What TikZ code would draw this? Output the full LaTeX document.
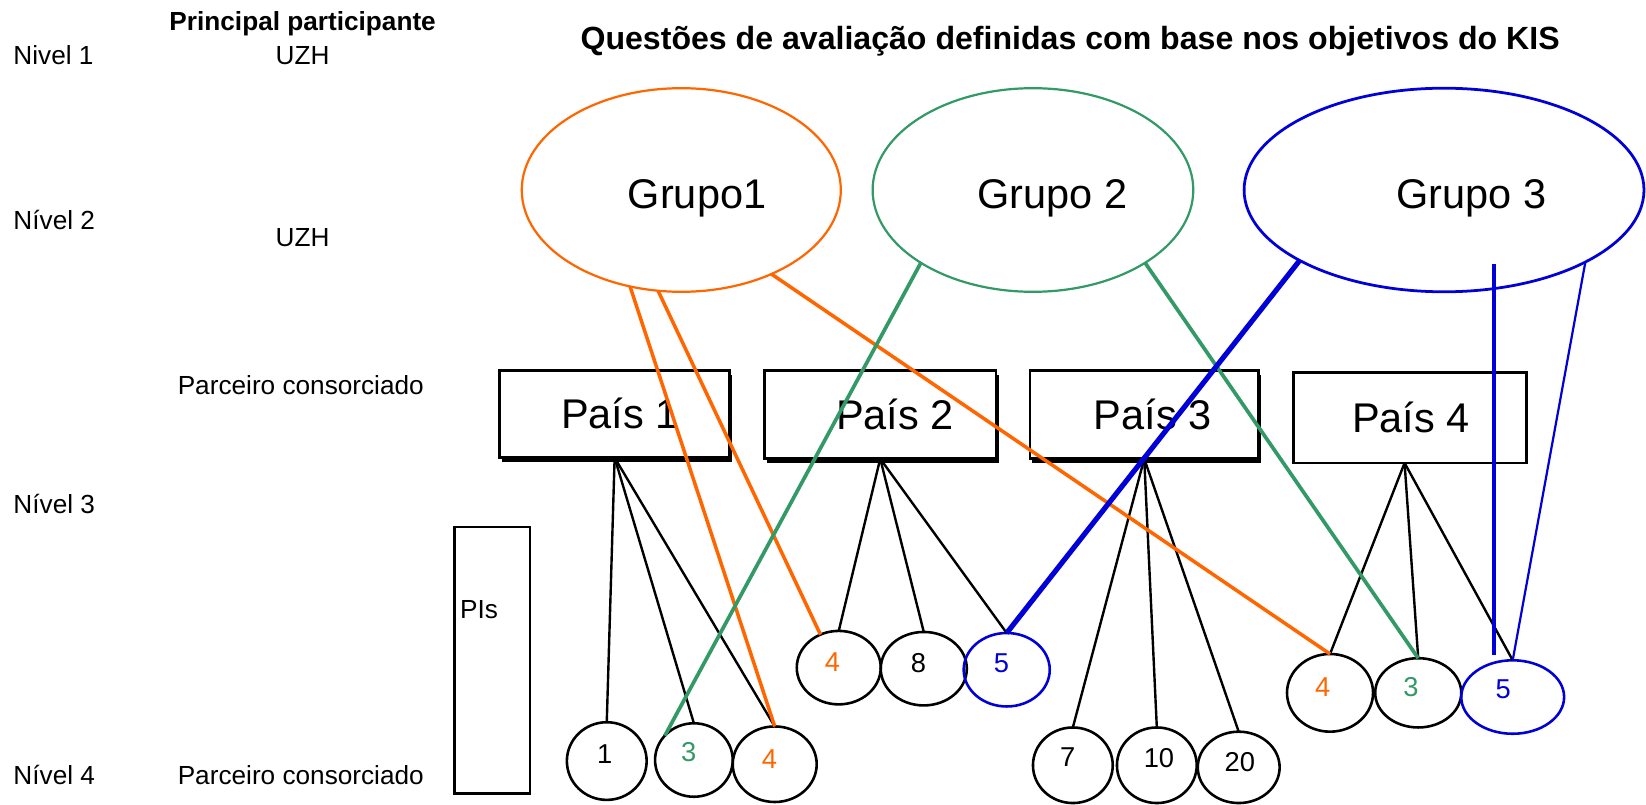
\documentclass[tikz,border=0pt]{standalone}
\usepackage{fontspec}
\setmainfont{Liberation Sans}
\usetikzlibrary{shapes.geometric,shadows}

\definecolor{grpA}{RGB}{255,102,0}
\definecolor{grpB}{RGB}{51,153,102}
\definecolor{grpC}{RGB}{0,0,215}

\begin{document}
\begin{tikzpicture}[x=0.02cm,y=-0.02cm,
  lbl/.style={inner sep=0,font=\fontsize{14.2}{17}\selectfont},
  ttl/.style={inner sep=0,font=\bfseries\fontsize{17.4}{21}\selectfont},
  grp/.style={ellipse,draw,line width=1.2pt,inner sep=0,outer sep=0},
  grptxt/.style={inner sep=0,text height=16.2pt,text depth=0pt,font=\fontsize{22.5}{26}\selectfont},
  paisbox/.style={rectangle,draw,fill=white,line width=1.4pt,inner sep=0,outer sep=0},
  boxshadow/.style={drop shadow={fill=black,opacity=1,shadow xshift=0.05cm,shadow yshift=-0.08cm}},
  paistxt/.style={inner sep=0,text height=16.1pt,text depth=0pt,font=\fontsize{22.5}{26}\selectfont},
  pi/.style={ellipse,draw,line width=1.4pt,inner sep=0,outer sep=0},
  numtxt/.style={inner sep=0,text height=10.6pt,text depth=0pt,font=\fontsize{14.8}{18}\selectfont},
  tie/.style={line width=1.3pt,black},
  linkA/.style={line width=1.9pt,grpA},
  linkB/.style={line width=2pt,grpB},
]
\useasboundingbox (0,0) rectangle (1568,766);

% left column: levels and roles
\node[lbl,anchor=base] (pp) at (288.3,28.6) {\bfseries Principal participante};
\node[lbl,anchor=base west] (n1) at (12.5,61) {Nivel 1};
\node[lbl,anchor=base] (uzh1) at (288.3,61) {UZH};
\node[lbl,anchor=base west] (n2) at (12.5,219) {Nível 2};
\node[lbl,anchor=base] (uzh2) at (288.3,234.4) {UZH};
\node[lbl,anchor=base west] (pc1) at (169,376) {Parceiro consorciado};
\node[lbl,anchor=base west] (n3) at (12.5,489) {Nível 3};
\node[lbl,anchor=base west] (n4) at (12.5,747) {Nível 4};
\node[lbl,anchor=base west] (pc2) at (169,747) {Parceiro consorciado};

% title
\node[ttl,anchor=base] (title) at (1019.4,47.6) {Questões de avaliação definidas com base nos objetivos do KIS};

% evaluation groups
\node[grp,draw=grpA,minimum width=6.08cm,minimum height=3.88cm,
  label={[grptxt,xshift=0.30cm,yshift=-0.06cm]center:Grupo1}] (g1) at (649,181) {};
\node[grp,draw=grpB,minimum width=6.11cm,minimum height=3.88cm,
  label={[grptxt,xshift=0.37cm,yshift=-0.06cm]center:Grupo 2}] (g2) at (984,181) {};
\node[grp,draw=grpC,line width=1.5pt,minimum width=7.62cm,minimum height=3.88cm,
  label={[grptxt,xshift=0.52cm,yshift=-0.06cm]center:Grupo 3}] (g3) at (1375.6,181) {};

% countries
\node[paisbox,boxshadow,minimum width=4.38cm,minimum height=1.66cm,
  label={[paistxt,xshift=0.10cm]center:País 1}] (p1) at (585.5,394.5) {};
\node[paisbox,boxshadow,minimum width=4.42cm,minimum height=1.68cm,
  label={[paistxt,xshift=0.28cm]center:País 2}] (p2) at (838.5,395) {};
\node[paisbox,boxshadow,minimum width=4.36cm,minimum height=1.68cm,
  label={[paistxt,xshift=0.16cm]center:País 3}] (p3) at (1090,395) {};
\node[paisbox,minimum width=4.44cm,minimum height=1.72cm,
  label={[paistxt,xshift=0.02cm]center:País 4}] (p4) at (1343,398) {};

% PIs bracket box
\node[rectangle,draw,line width=1.4pt,inner sep=0,minimum width=1.44cm,minimum height=5.08cm] (pis) at (469,629) {};
\node[lbl,anchor=base west] (pislbl) at (438,589) {PIs};

% principal investigators per country
\node[pi,minimum width=1.52cm,minimum height=1.48cm,label={[numtxt,xshift=-0.04cm,yshift=0.14cm]center:1}] (c11) at (578,725) {};
\node[pi,minimum width=1.48cm,minimum height=1.40cm,label={[numtxt,grpB,xshift=-0.10cm,yshift=0.16cm]center:3}] (c12) at (661,724) {};
\node[pi,minimum width=1.60cm,minimum height=1.44cm,label={[numtxt,grpA,xshift=-0.10cm,yshift=0.10cm]center:4}] (c13) at (738,728) {};

\node[pi,minimum width=1.60cm,minimum height=1.40cm,label={[numtxt,grpA,xshift=-0.12cm,yshift=0.12cm]center:4}] (c21) at (799,636) {};
\node[pi,minimum width=1.64cm,minimum height=1.40cm,label={[numtxt,xshift=-0.10cm,yshift=0.12cm]center:8}] (c22) at (880,637) {};
\node[pi,draw=grpC,minimum width=1.64cm,minimum height=1.40cm,label={[numtxt,grpC,xshift=-0.10cm,yshift=0.14cm]center:5}] (c23) at (959,638) {};

\node[pi,minimum width=1.52cm,minimum height=1.44cm,label={[numtxt,xshift=-0.10cm,yshift=0.16cm]center:7}] (c31) at (1022,729) {};
\node[pi,minimum width=1.52cm,minimum height=1.44cm,label={[numtxt,xshift=0.04cm,yshift=0.14cm]center:10}] (c32) at (1102,729) {};
\node[pi,minimum width=1.56cm,minimum height=1.36cm,label={[numtxt,xshift=0.02cm,yshift=0.10cm]center:20}] (c33) at (1180,731) {};

\node[pi,minimum width=1.64cm,minimum height=1.48cm,label={[numtxt,grpA,xshift=-0.14cm,yshift=0.12cm]center:4}] (c41) at (1267,660) {};
\node[pi,minimum width=1.64cm,minimum height=1.32cm,label={[numtxt,grpB,xshift=-0.14cm,yshift=0.12cm]center:3}] (c42) at (1351,660) {};
\node[pi,draw=grpC,minimum width=1.96cm,minimum height=1.40cm,label={[numtxt,grpC,xshift=-0.18cm,yshift=0.16cm]center:5}] (c43) at (1441,664) {};

% country to investigator ties
\draw[tie] (p1.south) -- (c11.north);
\draw[tie] (p1.south) -- (c12.north);
\draw[tie] (p1.south) -- (c13.north);
\draw[tie] (p2.south) -- (c21.north);
\draw[tie] (p2.south) -- (c22.north);
\draw[tie] (p2.south) -- (c23.north);
\draw[tie] (p3.south) -- (c31.north);
\draw[tie] (p3.south) -- (c32.north);
\draw[tie] (p3.south) -- (c33.north);
\draw[tie] ([xshift=-0.1cm]p4.south) -- (c41.north);
\draw[tie] ([xshift=-0.1cm]p4.south) -- (c42.north);
\draw[tie] ([xshift=-0.1cm]p4.south) -- (c43.north);

% group 1 questions
\draw[linkA] (g1.242.8) -- (c13.north);
\draw[linkA] (g1.257.5) -- (c21.119);
\draw[linkA] (g1.317.3) -- (c41.north);

% group 2 questions
\draw[linkB] (g2.213.2) -- (c12.140.6);
\draw[linkB] (g2.327.1) -- (c42.north);

% group 3 questions
\coordinate (b3top) at (1423,251.5);
\coordinate (b3end) at (1423,624);
\draw[grpC,line width=2.8pt] (g3.206.2) -- (c23.north);
\draw[grpC,line width=1.9pt] (b3top) -- (b3end);
\draw[grpC,line width=1.2pt] (g3.333.7) -- (c43.north);
\end{tikzpicture}
\end{document}
